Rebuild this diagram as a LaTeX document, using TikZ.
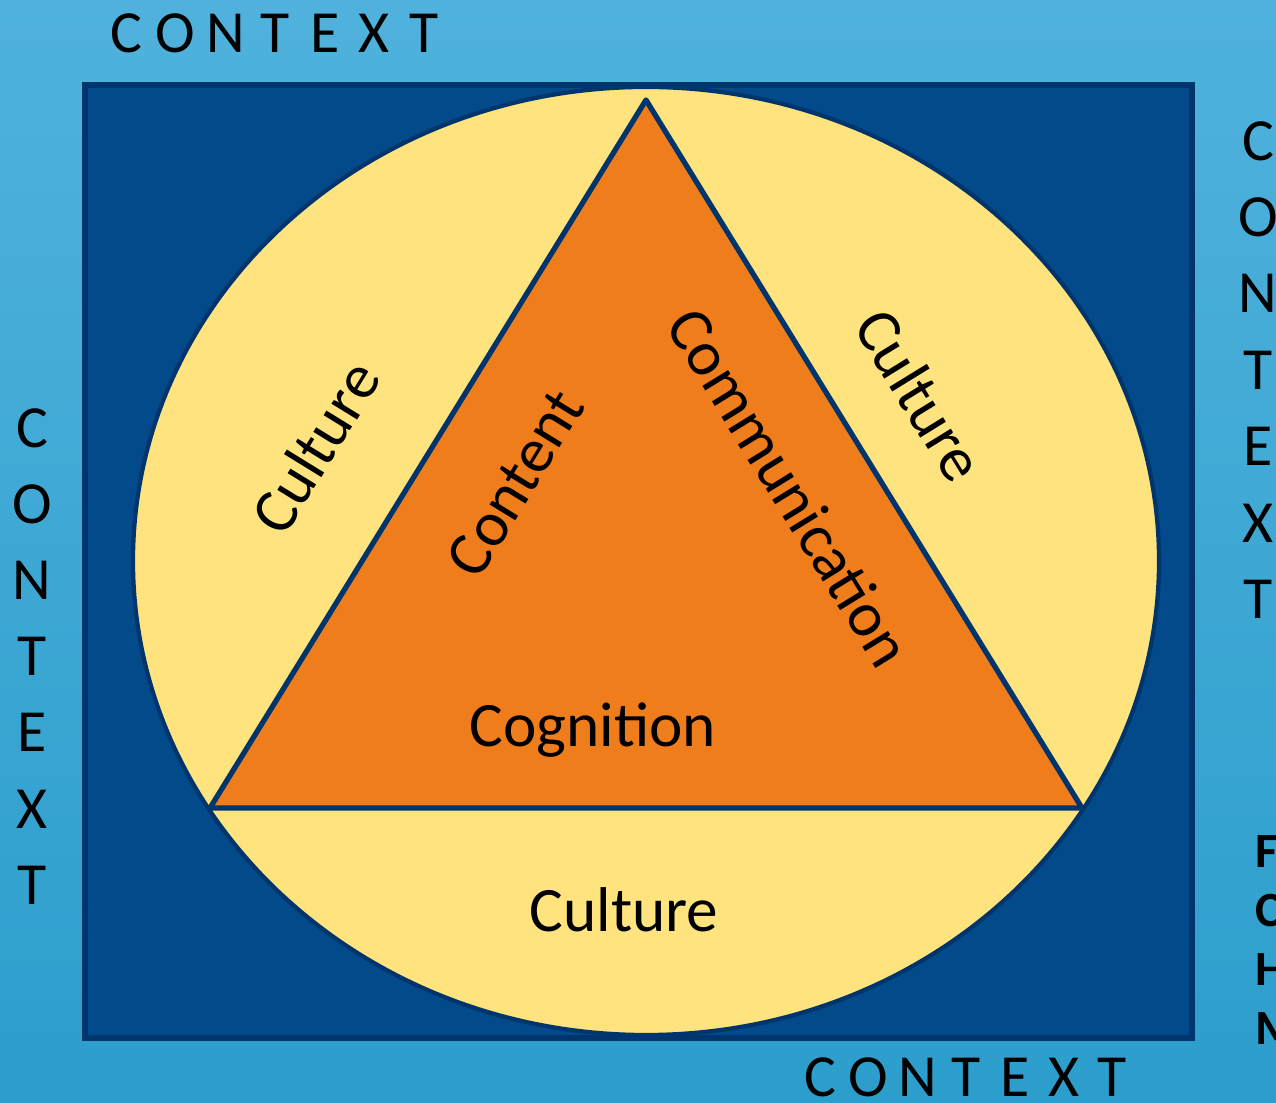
\documentclass[tikz,border=0pt]{standalone}
\usepackage{fontspec}
\setmainfont{Carlito}
\definecolor{skyblue}{RGB}{80,178,220}
\definecolor{seablue}{RGB}{44,158,204}
\definecolor{navy}{RGB}{0,52,108}
\definecolor{boxblue}{RGB}{3,74,139}
\definecolor{paleyellow}{RGB}{254,227,126}
\definecolor{clilorange}{RGB}{240,125,27}
\tikzset{
  label/.style={font=\fontsize{18}{20}\selectfont},
  ctx/.style={font=\fontsize{17}{19}\selectfont, inner sep=0pt},
  cut/.style={font=\fontsize{14}{16}\selectfont\bfseries, inner sep=0pt, anchor=west}
}
\begin{document}
\begin{tikzpicture}
\shade[top color=skyblue, bottom color=seablue] (0,0) rectangle (12.76,11.03);
\useasboundingbox (0,0) rectangle (12.76,11.03);
\draw[navy, line width=1.7pt, fill=boxblue] (0.85,0.65) rectangle (11.92,10.18);
\draw[navy, line width=1.2pt, fill=paleyellow] (6.46,5.42) ellipse (5.13 and 4.74);
\draw[navy, line width=1.5pt, fill=clilorange, line join=round] (6.46,10.03) -- (2.10,2.95) -- (10.82,2.95) -- cycle;
% labels
\node[label, rotate=58.4] (cultureleft) at (3.15,6.56) {Culture};
\node[label, rotate=58.4] (content) at (5.15,6.20) {Content};
\node[label, rotate=-58.4] (communication) at (7.90,6.16) {Communication};
\node[label, rotate=-58.4] (cultureright) at (9.20,7.08) {Culture};
\node[label] (cognition) at (5.93,3.73) {Cognition};
\node[label] (culturebottom) at (6.24,1.93) {Culture};
% context letters
\foreach \l [count=\i] in {C,O,N,T,E,X,T} {
\node[ctx] (top\i) at (1.26+0.497*\i-0.497,10.70) {\l};
\node[ctx] (bottom\i) at (8.20+0.487*\i-0.487,0.26) {\l};
\node[ctx] (left\i) at (0.32,6.75-0.762*\i+0.762) {\l};
\node[ctx] (right\i) at (12.58,9.62-0.764*\i+0.764) {\l};}
\foreach \l [count=\i] in {F,C,H,M} {
\node[cut] (edge\i) at (12.55,2.51-0.59*\i+0.59) {\l};}
\end{tikzpicture}
\end{document}
